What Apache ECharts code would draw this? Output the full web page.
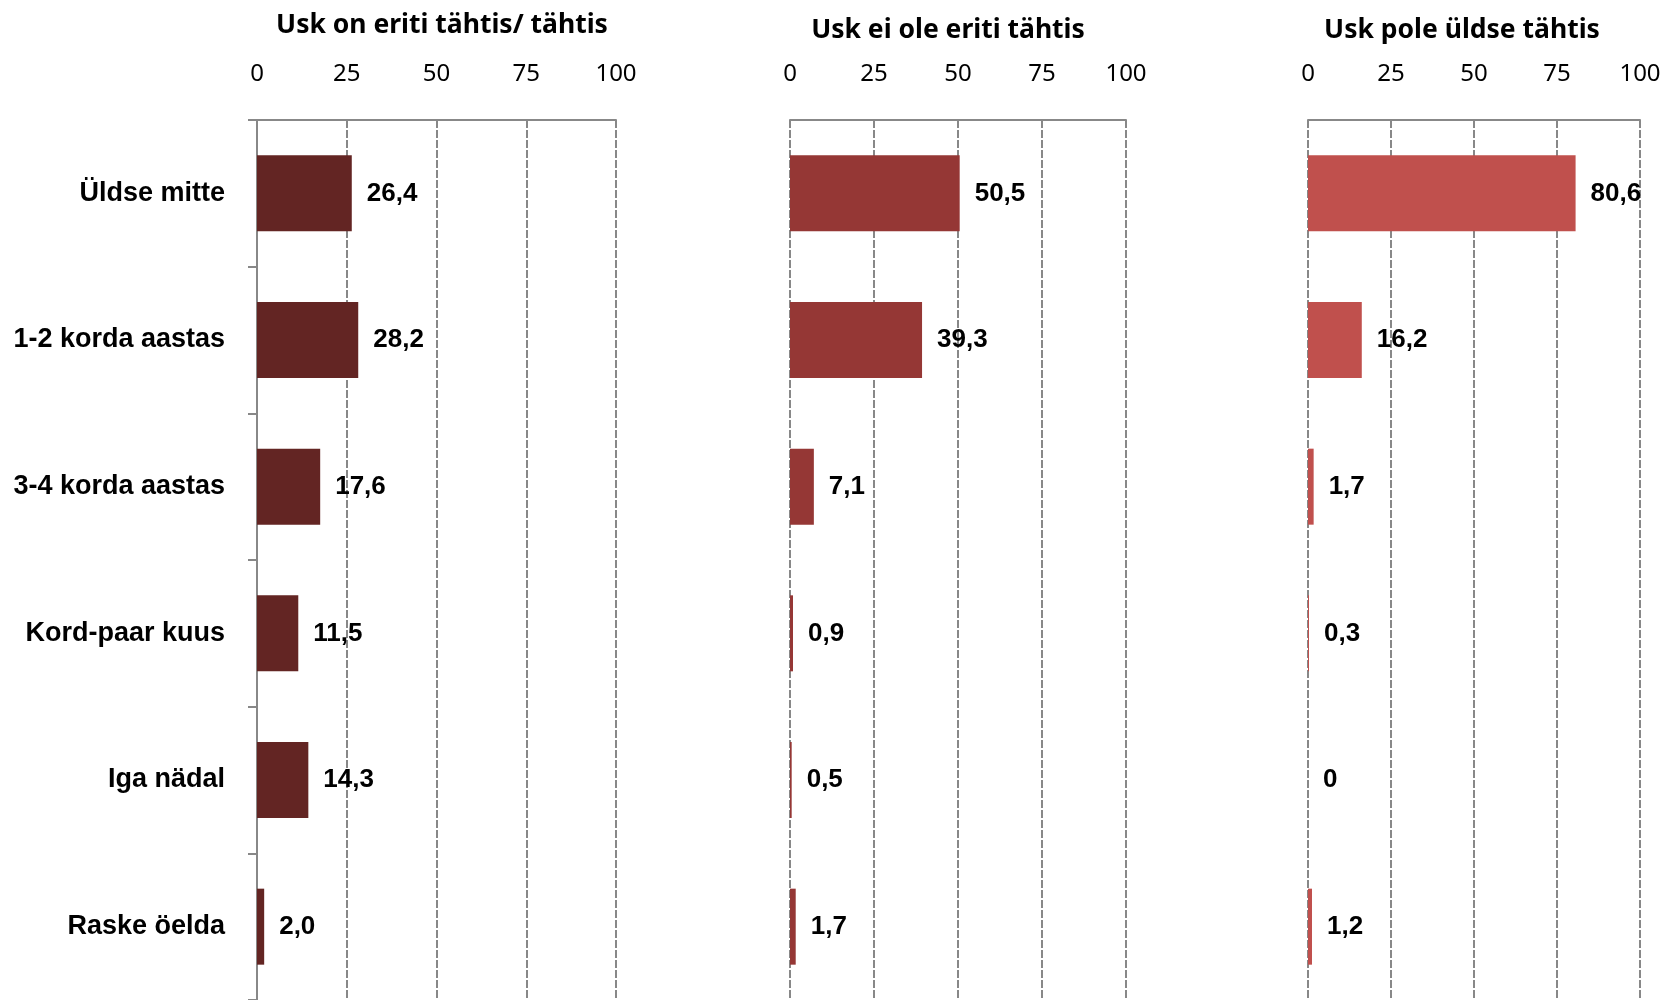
<!DOCTYPE html>
<html>
<head>
<meta charset="utf-8">
<script src="https://cdn.jsdelivr.net/npm/echarts@6/dist/echarts.min.js"></script>
<style>
  html, body { margin: 0; padding: 0; background: #fff; }
  #chart { width: 1674px; height: 1000px; }
</style>
</head>
<body>
<div id="chart"></div>
<script>
var categories = ["Üldse mitte", "1-2 korda aastas", "3-4 korda aastas", "Kord-paar kuus", "Iga nädal", "Raske öelda"];
var titles = ["Usk on eriti tähtis/ tähtis", "Usk ei ole eriti tähtis", "Usk pole üldse tähtis"];
var seriesA = [26.4, 28.2, 17.6, 11.5, 14.3, 2.0];
var seriesB = [50.5, 39.3, 7.1, 0.9, 0.5, 1.7];
var seriesC = [80.6, 16.2, 1.7, 0.3, 0, 1.2];
var ticks = [0, 25, 50, 75, 100];

var colors = ["#632523", "#953735", "#C0504D"];
var allData = [seriesA, seriesB, seriesC];
// plot boxes
var boxes = [
    {left: 257, width: 359, titleX: 437, titleY: 7},
    {left: 790, width: 336, titleX: 943, titleY: 12},
    {left: 1308, width: 332, titleX: 1457, titleY: 12}
];
var gray = "#888888";

var myChart = echarts.init(document.getElementById("chart"));

var option = {
    animation: false,
    title: [],
    grid: [],
    xAxis: [],
    yAxis: [],
    series: []
};

boxes.forEach(function (b, i) {
    option.title.push({
        text: titles[i],
        left: b.titleX,
        top: b.titleY,
        textAlign: "center",
        textStyle: {fontFamily: "Noto Sans", fontWeight: "bold", fontSize: 26.5, color: "#000"}
    });
    option.grid.push({left: b.left, width: b.width, top: 120, bottom: 0, containLabel: false});
    option.xAxis.push({
        type: "value",
        gridIndex: i,
        position: "top",
        min: ticks[0],
        max: ticks[ticks.length - 1],
        interval: 25,
        axisLine: {show: true, lineStyle: {color: gray, width: 2}},
        axisTick: {show: false},
        axisLabel: {
            margin: 34,
            fontFamily: "Noto Sans",
            fontSize: 24,
            color: "#000"
        },
        splitLine: {show: true, lineStyle: {color: gray, width: 2, type: [8, 2]}}
    });
    option.yAxis.push({
        type: "category",
        gridIndex: i,
        data: categories,
        inverse: true,
        axisLine: {show: i === 0, onZero: false, lineStyle: {color: gray, width: 2}},
        axisTick: {show: i === 0, length: 9, lineStyle: {color: gray, width: 2}},
        axisLabel: {
            show: i === 0,
            margin: 32,
            fontFamily: "Liberation Sans",
            fontWeight: "bold",
            fontSize: 27,
            color: "#000"
        }
    });
    option.series.push({
        type: "bar",
        xAxisIndex: i,
        yAxisIndex: i,
        data: allData[i],
        barWidth: 76,
        itemStyle: {color: colors[i]},
        label: {
            show: true,
            position: "right",
            distance: 15,
            fontFamily: "Liberation Sans",
            fontWeight: "bold",
            fontSize: 26,
            color: "#000",
            formatter: function (p) {
                return p.value === 0 ? "0" : p.value.toFixed(1).replace(".", ",");
            }
        }
    });
});

myChart.setOption(option);
</script>
</body>
</html>
